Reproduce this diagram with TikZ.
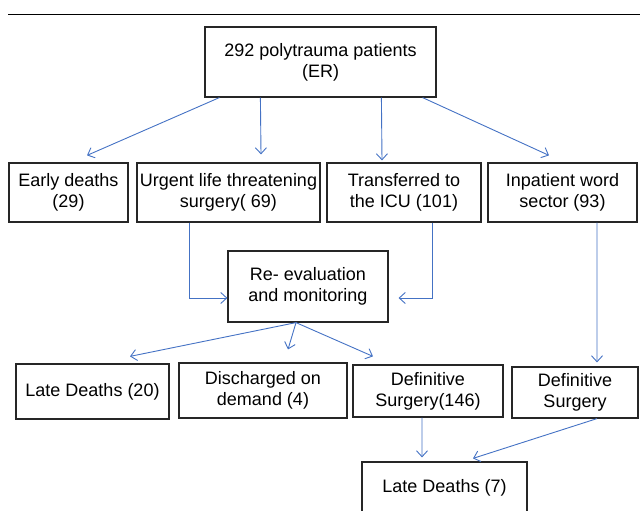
\documentclass[tikz,border=0pt]{standalone}
\usepackage{fontspec}
\setmainfont{Liberation Sans}
\usetikzlibrary{arrows.meta}
\definecolor{flowblue}{RGB}{68,114,196}
\newcommand{\boxfont}{\fontsize{18bp}{21bp}\selectfont}
\tikzset{
  box/.style={draw=black!85,line width=1.2bp,align=center,inner sep=0pt,font=\boxfont},
  flow/.style={draw=flowblue,line width=0.9bp,-{Straight Barb[length=6bp,width=11bp]}}
}

\begin{document}
\begin{tikzpicture}[x=1bp,y=-1bp]
        \useasboundingbox (0,0) rectangle (640,511);
        \clip (0,0) rectangle (640,511);
        \draw[line width=1bp] (8,15) -- (640,15);
        \node[box,minimum width=231bp,minimum height=70bp] (er) at (320.5,62) {292 polytrauma patients\\(ER)};
        \node[box,minimum width=119bp,minimum height=59bp] (early) at (68.5,192.5) {Early deaths\\(29)};
        \draw[flow] ([xshift=15bp]er.south west) -- ([xshift=18.5bp,yshift=7bp]early.north);
        \node[box,minimum width=183bp,minimum height=59bp] (urgent) at (228.5,192.5) {Urgent life threatening\\surgery( 69)};
        \draw[flow] ([xshift=56bp]er.south west) -- ([xshift=32.5bp,yshift=8bp]urgent.north);
        \node[box,minimum width=154bp,minimum height=59bp] (icu) at (404,192.5) {Transferred to\\the ICU (101)};
        \draw[flow] ([xshift=177bp]er.south west) -- ([xshift=-22bp,yshift=2bp]icu.north);
        \node[box,minimum width=149bp,minimum height=59bp] (ward) at (562.5,192.5) {Inpatient word\\sector (93)};
        \draw[flow] ([xshift=-14bp]er.south east) -- ([xshift=-13.5bp,yshift=7bp]ward.north);
        \node[box,minimum width=160bp,minimum height=71bp] (reeval) at (308,286.5) {Re- evaluation\\and monitoring};
        \draw[flow] ([xshift=-39.5bp]urgent.south) |- ([yshift=-11.5bp]reeval.west);
        \draw[flow] ([xshift=28bp]icu.south) |- ([xshift=10bp,yshift=-11.5bp]reeval.east);
        \node[box,minimum width=153bp,minimum height=55bp] (late20) at (92.5,391.5) {Late Deaths (20)};
        \draw[flow] ([xshift=-12bp]reeval.south) -- ([xshift=37.5bp,yshift=7bp]late20.north);
        \node[box,minimum width=168bp,minimum height=55bp] (discharged) at (263,390.5) {Discharged on\\demand (4)};
        \draw[flow] ([xshift=-12bp]reeval.south) -- ([xshift=25bp,yshift=13bp]discharged.north);
        \node[box,minimum width=150bp,minimum height=52bp] (defsurg) at (428,391) {Definitive\\Surgery(146)};
        \draw[flow] ([xshift=-12bp]reeval.south) -- ([xshift=-55bp,yshift=8bp]defsurg.north);
        \node[box,minimum width=126bp,minimum height=51bp] (defsurgward) at (575,392.5) {Definitive\\Surgery};
        \draw[flow] ([xshift=34.5bp]ward.south) -- ([xshift=22bp,yshift=4bp]defsurgward.north);
        \node[box,minimum width=165bp,minimum height=52bp] (late7) at (444.5,488) {Late Deaths (7)};
        \draw[flow] ([xshift=-6bp]defsurg.south) -- ([xshift=-22.5bp,yshift=4bp]late7.north);
        \draw[flow] ([xshift=22bp]defsurgward.south) -- ([xshift=28.5bp,yshift=3bp]late7.north);
\end{tikzpicture}
\end{document}
